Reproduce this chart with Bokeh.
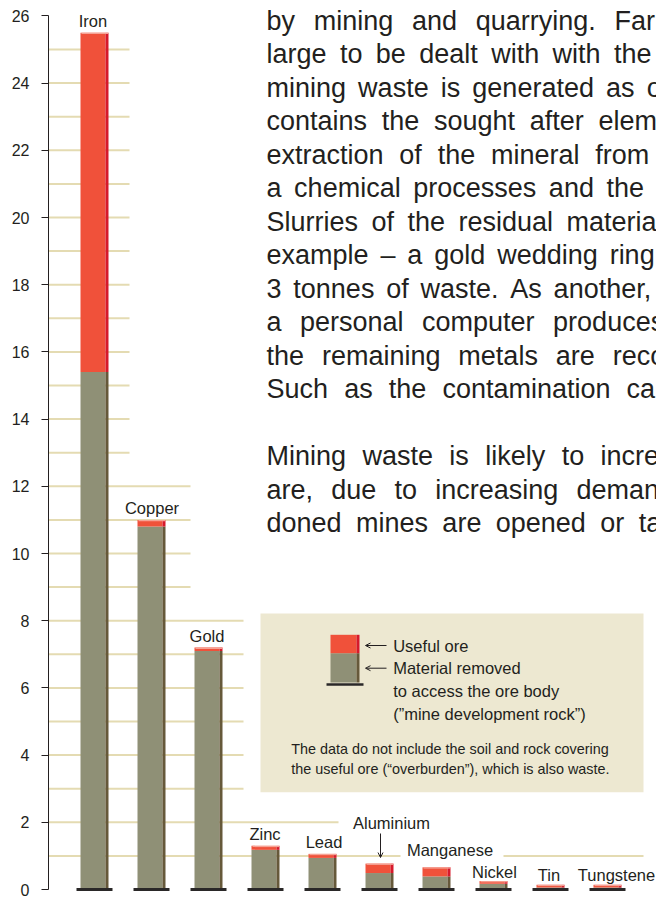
import numpy as np
from bokeh.plotting import figure
from bokeh.models import Range1d, FixedTicker, Arrow, OpenHead
from bokeh.core.properties import value
from bokeh.embed import file_html
from bokeh.resources import INLINE

# ---------------- data ----------------
metals = ["Iron", "Copper", "Gold", "Zinc", "Lead", "Aluminium",
          "Manganese", "Nickel", "Tin", "Tungstene"]
material_removed = [15.4, 10.8, 7.1, 1.18, 0.94, 0.49, 0.39, 0.17, 0.06, 0.06]
useful_ore = [10.1, 0.2, 0.1, 0.12, 0.12, 0.28, 0.27, 0.08, 0.08, 0.08]
y_ticks = list(range(0, 27, 2))
grid_levels = list(range(1, 26))

body_lines = [
    "by mining and quarrying. Far too",
    "large to be dealt with with the usual",
    "mining waste is generated as overburden",
    "contains the sought after elements",
    "extraction of the mineral from the",
    "a chemical processes and the",
    "Slurries of the residual material",
    "example \u2013 a gold wedding ring",
    "3 tonnes of waste. As another,",
    "a personal computer produces",
    "the remaining metals are recovered",
    "Such as the contamination caused",
    "",
    "Mining waste is likely to increase",
    "are, due to increasing demand",
    "doned mines are opened or taken",
]
legend_lines = ["Useful ore", "Material removed", "to access the ore body",
                "(\u201dmine development rock\u201d)"]
note_lines = ["The data do not include the soil and rock covering",
              "the useful ore (\u201coverburden\u201d), which is also waste."]

# ---------------- layout helpers (page pixel -> data) ----------------
W, H = 656, 898
PX_PER_UNIT = 33.6
SLOT = 57.0
X0_IMG = 92.5


def px2x(px):
    return (px - X0_IMG) / SLOT


def px2y(py):
    return (889 - py) / PX_PER_UNIT


def dx(px):
    return px / SLOT


def dy(px):
    return px / PX_PER_UNIT


TXT = "#231f20"
FONT = "Liberation Sans"

p = figure(width=W, height=H, output_backend="svg", toolbar_location=None,
           x_range=Range1d(px2x(48), px2x(656)), y_range=Range1d(px2y(898), px2y(0)),
           x_axis_location=None, min_border_left=48, min_border_right=0,
           min_border_top=0, min_border_bottom=0)
p.xgrid.visible = False
p.ygrid.visible = False
p.outline_line_color = None
p.background_fill_color = "white"
p.border_fill_color = "white"

ax = p.yaxis[0]
ax.ticker = FixedTicker(ticks=y_ticks)
ax.bounds = (0, 26)
ax.major_tick_out = 7
ax.major_tick_in = 0
ax.minor_tick_out = 0
ax.minor_tick_in = 0
ax.axis_line_color = TXT
ax.major_tick_line_color = TXT
ax.major_label_text_font = FONT
ax.major_label_text_font_size = "16px"
ax.major_label_text_color = TXT
ax.major_label_standoff = 12

# ---------------- staircase gridlines ----------------
def grid_right(level):
    if level >= 13:
        return 129
    if level >= 9:
        return 190
    if level >= 3:
        return 243
    if level == 2:
        return 338
    return 643

g_x0, g_x1, g_y = [], [], []
for lv in grid_levels:
    if lv == 1:
        g_x0 += [px2x(48), px2x(503)]
        g_x1 += [px2x(400), px2x(643)]
        g_y += [lv, lv]
    else:
        g_x0.append(px2x(48))
        g_x1.append(px2x(grid_right(lv)))
        g_y.append(lv)
p.segment(x0=g_x0, x1=g_x1, y0=g_y, y1=g_y, line_color="#e4dbb2", line_width=2)

# ---------------- legend box ----------------
p.quad(left=px2x(260), right=px2x(643), top=px2y(613), bottom=px2y(791.7),
       fill_color="#ede8d1", line_color=None)

# ---------------- bars ----------------
GRAY, GRAY_D = "#8f9076", "#66593a"
RED, RED_D, RED_T = "#f0513a", "#d6192b", "#f5a396"
idx = np.arange(len(metals))
removed = np.array(material_removed)
total = removed + np.array(useful_ore)
fl, fr, sr = idx - dx(12.5), idx + dx(12.5), idx + dx(15.5)
p.quad(left=fl, right=fr, bottom=0, top=removed, fill_color=GRAY, line_color=None)
p.quad(left=fr, right=sr, bottom=0, top=removed, fill_color=GRAY_D, line_color=None)
p.quad(left=fl, right=fr, bottom=removed, top=total, fill_color=RED, line_color=None)
p.quad(left=fr, right=sr, bottom=removed, top=total, fill_color=RED_D, line_color=None)
p.quad(left=fl + dx(1), right=sr, bottom=total - dy(1.3), top=total,
       fill_color=RED_T, line_color=None)
p.segment(x0=idx - dx(16.5), x1=idx + dx(19.5), y0=0, y1=0,
          line_color="#2a2828", line_width=3)

# bar labels (offsets in px from bar centre / top)
lab_dx = [0, 2, 0, 1, 3, 13.5, 15, 2.5, 0, 10.5]
lab_y_img = [None] * len(metals)
lab_y_img[5] = 822
lab_y_img[6] = 849
lab_y_img[7] = 871
lab_y_img[8] = 874
lab_y_img[9] = 874
lx, ly = [], []
for i in range(len(metals)):
    lx.append(idx[i] + dx(lab_dx[i]))
    if lab_y_img[i] is None:
        ly.append(total[i] + dy(12))
    else:
        ly.append(px2y(lab_y_img[i]))
p.text(x=lx, y=ly, text=metals, text_font=value(FONT), text_font_size=value("16.5px"),
       text_color=TXT, text_align="center", text_baseline="alphabetic")

# aluminium pointer
p.add_layout(Arrow(end=OpenHead(size=5, line_width=1, line_color=TXT),
                   x_start=px2x(380), y_start=px2y(833), x_end=px2x(380), y_end=px2y(857),
                   line_color=TXT, line_width=1))

# ---------------- legend content ----------------
p.quad(left=px2x(330), right=px2x(356), bottom=px2y(682), top=px2y(652.7),
       fill_color=GRAY, line_color=None)
p.quad(left=px2x(356), right=px2x(359), bottom=px2y(682), top=px2y(652.7),
       fill_color=GRAY_D, line_color=None)
p.quad(left=px2x(330), right=px2x(356), bottom=px2y(652.7), top=px2y(634.3),
       fill_color=RED, line_color=None)
p.quad(left=px2x(356), right=px2x(359), bottom=px2y(652.7), top=px2y(634.3),
       fill_color=RED_D, line_color=None)
p.segment(x0=px2x(326), x1=px2x(363), y0=px2y(684), y1=px2y(684),
          line_color="#2a2828", line_width=2.5)
for yy in (645, 667.7):
    p.add_layout(Arrow(end=OpenHead(size=5, line_width=1, line_color=TXT),
                       x_start=px2x(386), y_start=px2y(yy), x_end=px2x(365), y_end=px2y(yy),
                       line_color=TXT, line_width=1))
p.text(x=[px2x(392.7)] * 4, y=[px2y(645 + 22.7 * k) for k in range(4)], text=legend_lines,
       text_font=value(FONT), text_font_size=value("16.5px"), text_color=TXT,
       text_align="left", text_baseline="middle")
p.text(x=[px2x(290.7)] * 2, y=[px2y(748.3), px2y(768.3)], text=note_lines,
       text_font=value(FONT), text_font_size=value("14.4px"), text_color=TXT,
       text_align="left", text_baseline="middle")

# ---------------- justified body text (word by word) ----------------
AW = {' ': 278, '!': 278, '"': 355, "'": 191, '(': 333, ')': 333, ',': 278, '-': 333,
      '.': 278, ':': 278, '\u2013': 556}
for ch in "0123456789":
    AW[ch] = 556
AW.update(dict(zip("ABCDEFGHIJKLMNOPQRSTUVWXYZ",
                   [667, 667, 722, 722, 667, 611, 778, 722, 278, 500, 667, 556, 833, 722, 778,
                    667, 778, 722, 667, 611, 722, 667, 944, 667, 667, 611])))
AW.update(dict(zip("abcdefghijklmnopqrstuvwxyz",
                   [556, 556, 500, 556, 556, 278, 556, 556, 222, 222, 500, 222, 833, 556, 556,
                    556, 556, 333, 500, 278, 556, 500, 722, 500, 500, 500])))
BODY_SIZE = 27.0


def wwidth(w):
    return sum(AW.get(c, 556) for c in w) * BODY_SIZE / 1000.0

line_gap = [18.7, 13.4, 12.1, 14.7, 15.8, 12.6, 13.5, 11.9, 11.8, 18.5, 17.9, 16.1,
            12.0, 16.4, 18.2, 14.4]
wx, wy, wt = [], [], []
for k, line in enumerate(body_lines):
    if not line:
        continue
    x = 266.0
    base = 20.0 + 33.5 * k
    for w in line.split(" "):
        wx.append(px2x(x))
        wy.append(px2y(base))
        wt.append(w)
        x += wwidth(w) + line_gap[k]
p.text(x=wx, y=wy, text=wt, text_font=value(FONT), text_font_size=value("27px"),
       text_color=TXT, text_align="left", text_baseline="alphabetic")

open("out.html", "w").write(file_html(p, INLINE))
